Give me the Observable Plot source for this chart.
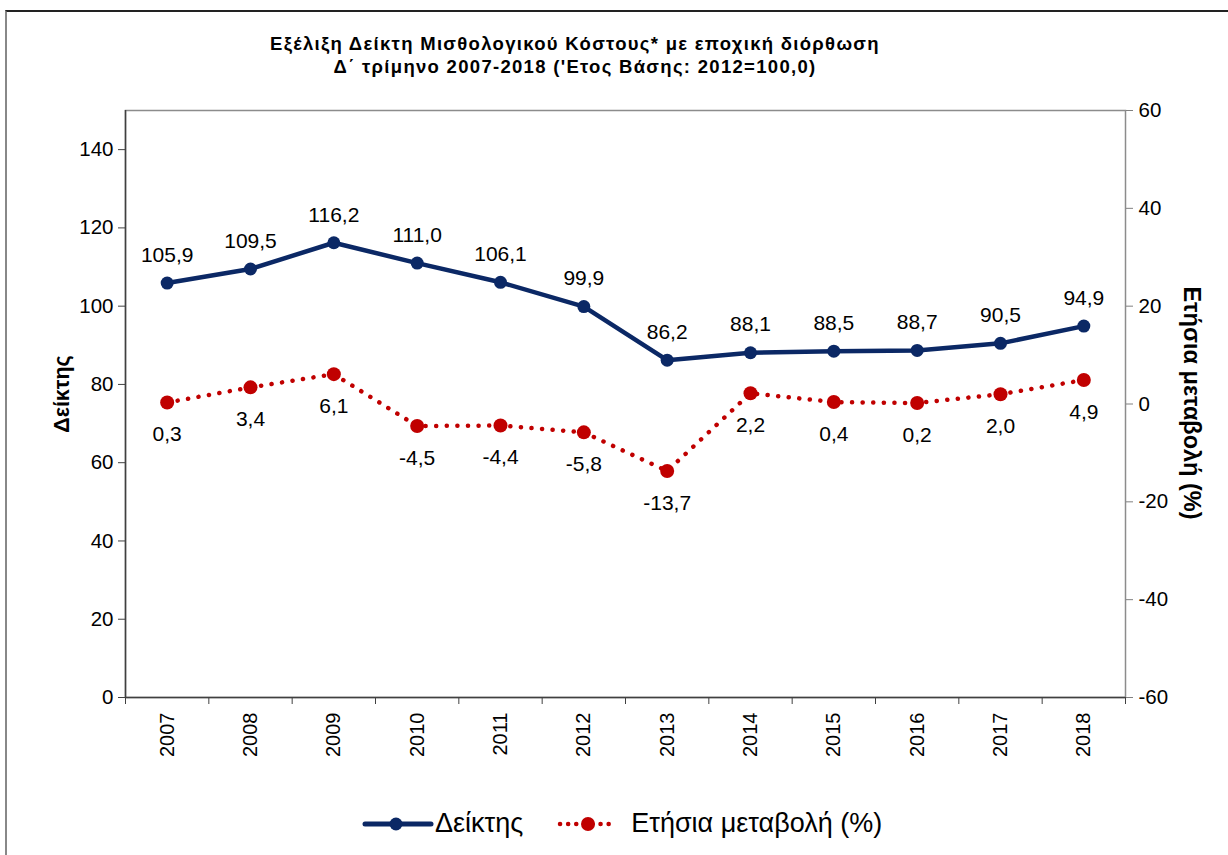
<!DOCTYPE html>
<html><head><meta charset="utf-8">
<script src="https://cdn.jsdelivr.net/npm/d3@7"></script>
<script src="https://cdn.jsdelivr.net/npm/@observablehq/plot@0.6"></script>
<style>
body{margin:0;background:#fff;font-family:"Liberation Sans",Arial,sans-serif;}
#wrap{position:relative;width:1228px;height:855px;overflow:hidden;}
#box{position:absolute;left:5px;top:10px;width:1230px;height:860px;border-top:2px solid #222;border-left:2px solid #888;}
.title{position:absolute;left:0;width:1150px;text-align:center;font-family:"Liberation Sans",Arial,sans-serif;font-weight:bold;font-size:18.5px;letter-spacing:1.3px;color:#000;line-height:22px;}
#chart{position:absolute;left:0;top:0;}
#chart g[aria-label="y-axis tick label"] text{font-size:20.5px !important;}
#chart g[aria-label="x-axis tick label"] text{font-size:20px !important;}
.ylab{position:absolute;font-weight:bold;white-space:nowrap;}
#legend{position:absolute;top:808px;left:361px;display:flex;align-items:center;font-size:27px;}
</style></head>
<body><div id="wrap"><div id="box"></div>
<div class="title" style="top:33px">Εξέλιξη Δείκτη Μισθολογικού Κόστους* με εποχική διόρθωση</div>
<div class="title" style="top:56px">Δ΄ τρίμηνο 2007-2018 ('Ετος Βάσης: 2012=100,0)</div>
<div id="chart"></div>
<div class="ylab" style="left:62px;top:394px;font-size:21.5px;transform:translate(-50%,-50%) rotate(-90deg);">Δείκτης</div>
<div class="ylab" style="left:1191px;top:403px;font-size:23.5px;transform:translate(-50%,-50%) rotate(90deg);">Ετήσια μεταβολή (%)</div>
<div id="legend"></div>
</div>
<script>
const years = [2007,2008,2009,2010,2011,2012,2013,2014,2015,2016,2017,2018];
const indexValues = [105.9,109.5,116.2,111.0,106.1,99.9,86.2,88.1,88.5,88.7,90.5,94.9];
const changeValues = [0.3,3.4,6.1,-4.5,-4.4,-5.8,-13.7,2.2,0.4,0.2,2.0,4.9];
const leftTicks = [0,20,40,60,80,100,120,140];
const rightTicks = [-60,-40,-20,0,20,40,60];
const seriesNames = ["Δείκτης","Ετήσια μεταβολή (%)"];
const blue = "#0b2865", red = "#c00000";

// map right axis (-60..60) onto left (0..150)
const toLeft = v => (v + 60) * 150 / 120;
const fromLeft = v => v * 120 / 150 - 60;
const fmt = v => v.toFixed(1).replace(".", ",");

const idx = years.map((y,i)=>({year:y, v:indexValues[i]}));
const chg = years.map((y,i)=>({year:y, v:changeValues[i], m:toLeft(changeValues[i])}));
const bounds = [years[0]-0.5, ...years.map(y=>y+0.5)];

const W = 1228, H = 780;
const chart = Plot.plot({
  width: W, height: H,
  marginLeft: 125, marginRight: 103, marginTop: 110, marginBottom: H-697,
  style:{fontFamily:'"Liberation Sans",Arial,sans-serif', fontSize:"20px", color:"#000", background:"transparent"},
  x:{type:"linear", domain:[years[0]-0.5, years[years.length-1]+0.5]},
  y:{domain:[0,150]},
  marks:[
    Plot.frame({stroke:"#8c8c8c", strokeWidth:1.5}),
    Plot.ruleX([bounds[0]], {stroke:"#404040", strokeWidth:1.5}),
    Plot.ruleY([0], {stroke:"#404040", strokeWidth:1.5}),
    Plot.axisY({ticks:leftTicks, tickSize:7, tickPadding:5, label:null, stroke:"#404040"}),
    Plot.axisY({anchor:"right", ticks:rightTicks.map(toLeft), tickFormat:v=>String(Math.round(fromLeft(v))), tickSize:7, tickPadding:6, label:null, stroke:"#808080"}),
    Plot.axisX({ticks:bounds, tickFormat:()=> "", tickSize:7, label:null, stroke:"#404040"}),
    Plot.axisX({ticks:years, tickFormat:d=>String(d), tickSize:0, tickPadding:15, tickRotate:-90, label:null}),
    Plot.line(chg, {x:"year", y:"m", stroke:red, strokeWidth:4.5, strokeDasharray:"0.1 10.5", strokeLinecap:"round"}),
    Plot.dot(chg, {x:"year", y:"m", r:7, fill:red}),
    Plot.text(chg, {x:"year", y:"m", text:d=>fmt(d.v), dy:32, fontSize:21, fill:"#000"}),
    Plot.line(idx, {x:"year", y:"v", stroke:blue, strokeWidth:4.5, strokeLinejoin:"round"}),
    Plot.dot(idx, {x:"year", y:"v", r:6.5, fill:blue}),
    Plot.text(idx, {x:"year", y:"v", text:d=>fmt(d.v), dy:-28, fontSize:21, fill:"#000"})
  ]
});
document.getElementById("chart").appendChild(chart);

const lg = document.getElementById("legend");
lg.innerHTML =
 `<svg width="74" height="26"><line x1="4" y1="13" x2="70" y2="13" stroke="${blue}" stroke-width="5" stroke-linecap="round"/><circle cx="35" cy="13" r="6.5" fill="${blue}"/></svg>` +
 `<span style="margin-left:0px">${seriesNames[0]}</span>` +
 `<svg width="66" height="26" style="margin-left:32px"><line x1="5" y1="13" x2="61" y2="13" stroke="${red}" stroke-width="4.5" stroke-dasharray="0.1 8" stroke-linecap="round"/><circle cx="33" cy="13" r="7" fill="${red}"/></svg>` +
 `<span style="margin-left:10px">${seriesNames[1]}</span>`;
</script></body></html>
